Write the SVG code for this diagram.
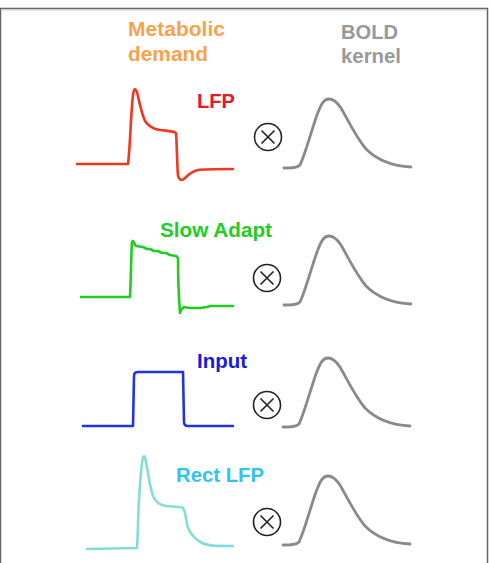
<svg xmlns="http://www.w3.org/2000/svg" width="489" height="563" viewBox="0 0 489 563">
<style>
.lbl{font-family:"Liberation Sans",Arial,sans-serif;font-weight:bold;font-size:19.5px}
.trace{fill:none;stroke-width:2.6;stroke-linejoin:round;stroke-linecap:round}
.kernel{fill:none;stroke:#8a8a8a;stroke-width:2.8;stroke-linejoin:round;stroke-linecap:round}
</style>
<defs>
<path id="kern" d="M284,168 C292,168 297,168 300,165 C305,155 311,132 317,115 C321,104 324,99 329,99 C334,99 337,102 341,108 C349,122 356,137 366,149 C378,161 392,166 411,167"/>
<g id="ox" fill="none" stroke="#222" stroke-width="1.6"><circle cx="0" cy="0" r="13.5"/><path d="M-6.5,-6.5 L6.5,6.5 M6.5,-6.5 L-6.5,6.5"/></g>
</defs>
<rect x="0" y="0" width="489" height="563" fill="#fff"/>
<g id="frame">
<path d="M0.5,563 V8.5 H487.5 V563" fill="none" stroke="#666" stroke-width="1.5"/>
<path d="M2,10 H486" fill="none" stroke="#ccc" stroke-width="1"/>
</g>
<g id="headers">
<text class="lbl" x="128" y="36" fill="#f8a24c" textLength="97" lengthAdjust="spacingAndGlyphs">Metabolic</text>
<text class="lbl" x="128" y="61" fill="#f8a24c" textLength="80" lengthAdjust="spacingAndGlyphs">demand</text>
<text class="lbl" x="341" y="39" fill="#999" textLength="57" lengthAdjust="spacingAndGlyphs">BOLD</text>
<text class="lbl" x="341" y="63" fill="#999" textLength="60" lengthAdjust="spacingAndGlyphs">kernel</text>
</g>
<g id="row-lfp">
<text class="lbl" x="197" y="108" fill="#e8182c" textLength="38" lengthAdjust="spacingAndGlyphs">LFP</text>
<path class="trace" stroke="#f0381e" d="M77,164 H128 C130,150 131,110 133,95 C134,88 135,88 137,92 C139,100 141,112 145,121 C149,127 153,129 160,130 C167,131 173,131 176,133 C177,145 177,165 178,176 C180,181 182,181 185,178 C189,174 193,171 198,170 C203,169 210,169 233,169"/>
<use href="#ox" x="268" y="137"/>
<use href="#kern" class="kernel"/>
</g>
<g id="row-slow">
<text class="lbl" x="160" y="237" fill="#22cc22" textLength="112" lengthAdjust="spacingAndGlyphs">Slow Adapt</text>
<path class="trace" stroke="#22cc22" d="M81,297 H130 C131,280 131,255 132,242 L133,241 L136,246 L143,247 L147,249 L150,249 L154,251 L158,251 L162,253 L166,253 L170,255 L176,256 L178,258 C178,275 179,300 180,313 L181,310 L184,307 L190,308 L200,308 L207,307 L210,306 L233,306"/>
<use href="#ox" x="267" y="278"/>
<use href="#kern" class="kernel" x="0" y="137"/>
</g>
<g id="row-input">
<text class="lbl" x="197" y="368" fill="#1a1ad8" textLength="50" lengthAdjust="spacingAndGlyphs">Input</text>
<path class="trace" stroke="#2233e0" d="M83,426 H133 L134,376 Q134,372 138,372 H183 L184,422 Q184,426 188,426 H233"/>
<use href="#ox" x="267" y="405"/>
<use href="#kern" class="kernel" x="-1" y="259"/>
</g>
<g id="row-rect">
<text class="lbl" x="176" y="482" fill="#33c4ee" textLength="88" lengthAdjust="spacingAndGlyphs">Rect LFP</text>
<path class="trace" stroke="#84dcd8" d="M87,549 L137,548 C138,535 138,515 139,500 C140,485 141,465 143,458 C144,455 145,456 146,462 C148,472 150,488 153,496 C156,503 160,505 166,506 C172,507 178,506 183,508 C186,512 186,522 188,528 C191,535 195,539 202,543 C208,546 215,546 233,546"/>
<use href="#ox" x="267" y="522"/>
<use href="#kern" class="kernel" x="-1" y="377"/>
</g>
</svg>
